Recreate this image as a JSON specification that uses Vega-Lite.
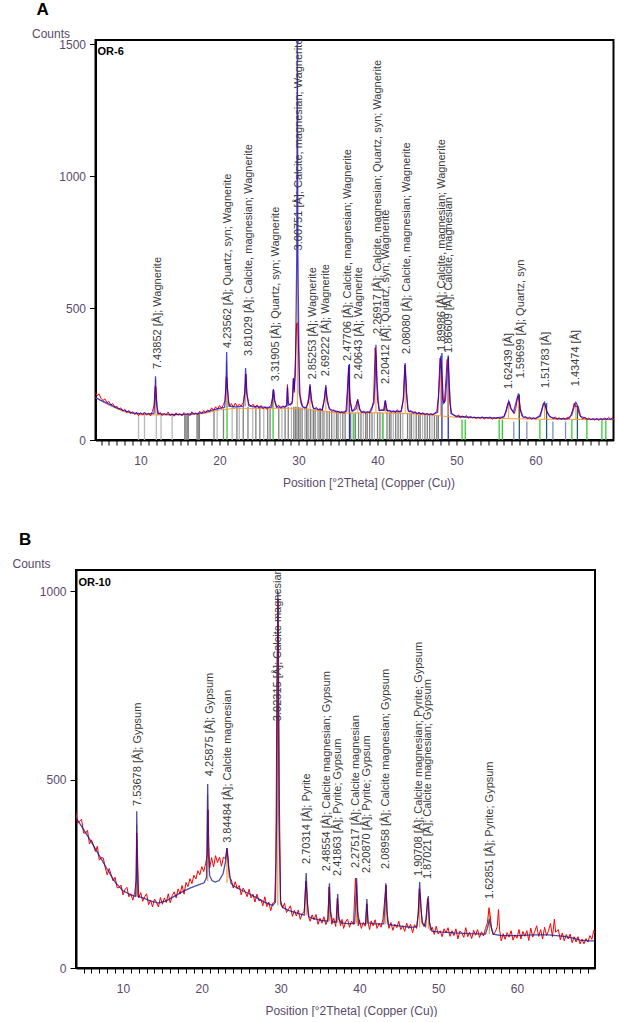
{
"$schema": "https://vega.github.io/schema/vega-lite/v6.json",
"padding": {"left": 11, "top": 0, "right": -15, "bottom": 0},
"spacing": 41,
"columns": 1,
"center": true,
"config": {
 "font": "Liberation Sans",
 "view": {"stroke": "black", "strokeWidth": 2},
 "axis": {"domainColor": "black", "domainWidth": 2, "tickColor": "black", "tickWidth": 1, "labelColor": "#5a4a6a", "titleColor": "#5a4a6a", "labelFontSize": 12, "titleFontSize": 12, "titleFontWeight": "normal", "grid": false, "labelFont": "Liberation Sans", "titleFont": "Liberation Sans"},
 "title": {"fontSize": 17, "fontWeight": "bold", "color": "black", "anchor": "start", "frame": "group", "offset": 8}
},
"datasets": {
"aObs": [
{"theta":4.3,"counts":180},{"theta":4.5,"counts":168},{"theta":4.75,"counts":175},{"theta":5.0,"counts":158},{"theta":5.25,"counts":150},{"theta":5.5,"counts":156},{"theta":5.75,"counts":142},{"theta":6.0,"counts":146},{"theta":6.25,"counts":133},{"theta":6.5,"counts":138},{"theta":6.75,"counts":124},{"theta":7.0,"counts":128},{"theta":7.25,"counts":116},{"theta":7.5,"counts":122},{"theta":7.75,"counts":110},{"theta":8.0,"counts":117},{"theta":8.25,"counts":104},{"theta":8.5,"counts":112},{"theta":8.75,"counts":100},{"theta":9.0,"counts":108},{"theta":9.25,"counts":96},{"theta":9.5,"counts":105},{"theta":9.75,"counts":92},{"theta":10.0,"counts":104},{"theta":10.25,"counts":94},{"theta":10.5,"counts":106},{"theta":10.75,"counts":95},{"theta":11.0,"counts":102},{"theta":11.25,"counts":92},{"theta":11.5,"counts":108},{"theta":11.7,"counts":130},{"theta":11.85,"counts":205},{"theta":11.95,"counts":200},{"theta":12.1,"counts":125},{"theta":12.3,"counts":98},{"theta":12.5,"counts":104},{"theta":12.75,"counts":93},{"theta":13.0,"counts":101},{"theta":13.25,"counts":95},{"theta":13.5,"counts":106},{"theta":13.75,"counts":92},{"theta":14.0,"counts":99},{"theta":14.25,"counts":90},{"theta":14.5,"counts":103},{"theta":14.75,"counts":94},{"theta":15.0,"counts":100},{"theta":15.25,"counts":91},{"theta":15.5,"counts":104},{"theta":15.75,"counts":96},{"theta":16.0,"counts":101},{"theta":16.25,"counts":92},{"theta":16.5,"counts":107},{"theta":16.75,"counts":97},{"theta":17.0,"counts":103},{"theta":17.25,"counts":95},{"theta":17.5,"counts":109},{"theta":17.75,"counts":100},{"theta":18.0,"counts":112},{"theta":18.25,"counts":104},{"theta":18.5,"counts":114},{"theta":18.75,"counts":108},{"theta":19.0,"counts":122},{"theta":19.25,"counts":112},{"theta":19.5,"counts":126},{"theta":19.75,"counts":116},{"theta":20.0,"counts":131},{"theta":20.25,"counts":120},{"theta":20.5,"counts":134},{"theta":20.7,"counts":150},{"theta":20.85,"counts":240},{"theta":20.95,"counts":235},{"theta":21.1,"counts":150},{"theta":21.3,"counts":128},{"theta":21.5,"counts":138},{"theta":21.75,"counts":124},{"theta":22.0,"counts":140},{"theta":22.25,"counts":127},{"theta":22.5,"counts":136},{"theta":22.75,"counts":129},{"theta":23.0,"counts":142},{"theta":23.2,"counts":180},{"theta":23.35,"counts":250},{"theta":23.5,"counts":170},{"theta":23.7,"counts":138},{"theta":24.0,"counts":128},{"theta":24.25,"counts":136},{"theta":24.5,"counts":122},{"theta":24.75,"counts":133},{"theta":25.0,"counts":120},{"theta":25.25,"counts":131},{"theta":25.5,"counts":118},{"theta":25.75,"counts":126},{"theta":26.0,"counts":116},{"theta":26.25,"counts":124},{"theta":26.5,"counts":130},{"theta":26.7,"counts":160},{"theta":26.85,"counts":190},{"theta":27.0,"counts":150},{"theta":27.25,"counts":124},{"theta":27.5,"counts":132},{"theta":27.75,"counts":120},{"theta":28.0,"counts":130},{"theta":28.25,"counts":122},{"theta":28.5,"counts":135},{"theta":28.6,"counts":210},{"theta":28.7,"counts":140},{"theta":29.0,"counts":132},{"theta":29.25,"counts":150},{"theta":29.35,"counts":235},{"theta":29.45,"counts":180},{"theta":29.6,"counts":300},{"theta":29.75,"counts":440},{"theta":29.9,"counts":445},{"theta":30.05,"counts":300},{"theta":30.2,"counts":170},{"theta":30.35,"counts":150},{"theta":30.5,"counts":128},{"theta":30.75,"counts":121},{"theta":31.0,"counts":126},{"theta":31.25,"counts":140},{"theta":31.45,"counts":205},{"theta":31.6,"counts":170},{"theta":31.8,"counts":125},{"theta":32.0,"counts":118},{"theta":32.25,"counts":124},{"theta":32.5,"counts":114},{"theta":32.75,"counts":120},{"theta":33.0,"counts":112},{"theta":33.25,"counts":150},{"theta":33.45,"counts":200},{"theta":33.6,"counts":165},{"theta":33.8,"counts":130},{"theta":34.0,"counts":114},{"theta":34.25,"counts":108},{"theta":34.5,"counts":115},{"theta":34.75,"counts":104},{"theta":35.0,"counts":110},{"theta":35.25,"counts":102},{"theta":35.5,"counts":108},{"theta":35.75,"counts":100},{"theta":36.0,"counts":110},{"theta":36.2,"counts":200},{"theta":36.35,"counts":275},{"theta":36.5,"counts":160},{"theta":36.75,"counts":110},{"theta":37.0,"counts":116},{"theta":37.25,"counts":130},{"theta":37.45,"counts":150},{"theta":37.6,"counts":140},{"theta":37.8,"counts":112},{"theta":38.0,"counts":104},{"theta":38.25,"counts":110},{"theta":38.5,"counts":100},{"theta":38.75,"counts":108},{"theta":39.0,"counts":102},{"theta":39.25,"counts":112},{"theta":39.5,"counts":150},{"theta":39.7,"counts":350},{"theta":39.85,"counts":300},{"theta":40.0,"counts":150},{"theta":40.25,"counts":110},{"theta":40.5,"counts":116},{"theta":40.75,"counts":112},{"theta":40.95,"counts":148},{"theta":41.1,"counts":130},{"theta":41.3,"counts":108},{"theta":41.5,"counts":114},{"theta":41.75,"counts":104},{"theta":42.0,"counts":112},{"theta":42.25,"counts":103},{"theta":42.5,"counts":115},{"theta":42.75,"counts":106},{"theta":43.0,"counts":112},{"theta":43.25,"counts":150},{"theta":43.45,"counts":285},{"theta":43.6,"counts":230},{"theta":43.8,"counts":120},{"theta":44.0,"counts":106},{"theta":44.25,"counts":112},{"theta":44.5,"counts":100},{"theta":44.75,"counts":108},{"theta":45.0,"counts":98},{"theta":45.25,"counts":106},{"theta":45.5,"counts":97},{"theta":45.75,"counts":104},{"theta":46.0,"counts":95},{"theta":46.25,"counts":102},{"theta":46.5,"counts":94},{"theta":46.75,"counts":100},{"theta":47.0,"counts":95},{"theta":47.25,"counts":102},{"theta":47.5,"counts":110},{"theta":47.7,"counts":160},{"theta":47.9,"counts":310},{"theta":48.05,"counts":300},{"theta":48.25,"counts":150},{"theta":48.45,"counts":140},{"theta":48.6,"counts":200},{"theta":48.8,"counts":305},{"theta":48.95,"counts":300},{"theta":49.15,"counts":140},{"theta":49.4,"counts":100},{"theta":49.75,"counts":92},{"theta":50.0,"counts":88},{"theta":50.25,"counts":95},{"theta":50.5,"counts":84},{"theta":50.75,"counts":91},{"theta":51.0,"counts":86},{"theta":51.25,"counts":93},{"theta":51.5,"counts":82},{"theta":51.75,"counts":90},{"theta":52.0,"counts":84},{"theta":52.25,"counts":88},{"theta":52.5,"counts":80},{"theta":52.75,"counts":87},{"theta":53.0,"counts":81},{"theta":53.25,"counts":89},{"theta":53.5,"counts":79},{"theta":53.75,"counts":86},{"theta":54.0,"counts":82},{"theta":54.25,"counts":88},{"theta":54.5,"counts":78},{"theta":54.75,"counts":85},{"theta":55.0,"counts":80},{"theta":55.25,"counts":87},{"theta":55.5,"counts":79},{"theta":55.75,"counts":86},{"theta":56.0,"counts":88},{"theta":56.25,"counts":110},{"theta":56.5,"counts":140},{"theta":56.7,"counts":145},{"theta":56.9,"counts":120},{"theta":57.1,"counts":110},{"theta":57.3,"counts":100},{"theta":57.5,"counts":120},{"theta":57.75,"counts":165},{"theta":57.9,"counts":160},{"theta":58.1,"counts":110},{"theta":58.3,"counts":90},{"theta":58.5,"counts":84},{"theta":58.75,"counts":90},{"theta":59.0,"counts":80},{"theta":59.25,"counts":87},{"theta":59.5,"counts":78},{"theta":59.75,"counts":85},{"theta":60.0,"counts":79},{"theta":60.25,"counts":88},{"theta":60.5,"counts":92},{"theta":60.75,"counts":110},{"theta":61.0,"counts":140},{"theta":61.2,"counts":135},{"theta":61.45,"counts":108},{"theta":61.75,"counts":92},{"theta":62.0,"counts":86},{"theta":62.25,"counts":80},{"theta":62.5,"counts":88},{"theta":62.75,"counts":78},{"theta":63.0,"counts":85},{"theta":63.25,"counts":77},{"theta":63.5,"counts":84},{"theta":63.75,"counts":78},{"theta":64.0,"counts":86},{"theta":64.25,"counts":80},{"theta":64.5,"counts":95},{"theta":64.75,"counts":120},{"theta":64.9,"counts":140},{"theta":65.1,"counts":125},{"theta":65.3,"counts":130},{"theta":65.5,"counts":100},{"theta":65.75,"counts":86},{"theta":66.0,"counts":80},{"theta":66.25,"counts":87},{"theta":66.5,"counts":77},{"theta":66.75,"counts":84},{"theta":67.0,"counts":76},{"theta":67.25,"counts":82},{"theta":67.5,"counts":75},{"theta":67.75,"counts":83},{"theta":68.0,"counts":74},{"theta":68.25,"counts":82},{"theta":68.5,"counts":76},{"theta":68.75,"counts":84},{"theta":69.0,"counts":78},{"theta":69.25,"counts":86},{"theta":69.5,"counts":79},{"theta":69.75,"counts":85},{"theta":69.87,"counts":80}
],
"aCalc": [
{"theta":4.3,"counts":162},{"theta":5,"counts":150},{"theta":6,"counts":136},{"theta":7,"counts":122},{"theta":8,"counts":110},{"theta":9,"counts":103},{"theta":10,"counts":100},{"theta":11,"counts":99},{"theta":11.7,"counts":101},{"theta":11.82,"counts":160},{"theta":11.9,"counts":242},{"theta":11.98,"counts":160},{"theta":12.15,"counts":100},{"theta":13,"counts":98},{"theta":14,"counts":97},{"theta":15,"counts":97},{"theta":16,"counts":98},{"theta":17,"counts":100},{"theta":18,"counts":104},{"theta":19,"counts":112},{"theta":20,"counts":120},{"theta":20.65,"counts":124},{"theta":20.82,"counts":200},{"theta":20.9,"counts":334},{"theta":20.98,"counts":200},{"theta":21.2,"counts":128},{"theta":22,"counts":126},{"theta":23.05,"counts":128},{"theta":23.2,"counts":190},{"theta":23.3,"counts":273},{"theta":23.42,"counts":180},{"theta":23.7,"counts":130},{"theta":24,"counts":128},{"theta":25,"counts":126},{"theta":26,"counts":124},{"theta":26.6,"counts":125},{"theta":26.75,"counts":170},{"theta":26.82,"counts":193},{"theta":26.95,"counts":150},{"theta":27.2,"counts":125},{"theta":28,"counts":126},{"theta":28.5,"counts":128},{"theta":28.6,"counts":200},{"theta":28.7,"counts":132},{"theta":29.2,"counts":140},{"theta":29.3,"counts":200},{"theta":29.35,"counts":232},{"theta":29.45,"counts":190},{"theta":29.6,"counts":250},{"theta":29.78,"counts":700},{"theta":29.85,"counts":1540},{"theta":29.92,"counts":700},{"theta":30.1,"counts":180},{"theta":30.3,"counts":142},{"theta":30.5,"counts":126},{"theta":31.0,"counts":122},{"theta":31.3,"counts":160},{"theta":31.45,"counts":212},{"theta":31.6,"counts":150},{"theta":31.9,"counts":120},{"theta":32.5,"counts":116},{"theta":33.0,"counts":114},{"theta":33.3,"counts":160},{"theta":33.45,"counts":208},{"theta":33.6,"counts":150},{"theta":33.9,"counts":118},{"theta":34.5,"counts":110},{"theta":35.5,"counts":105},{"theta":36.1,"counts":110},{"theta":36.25,"counts":200},{"theta":36.35,"counts":284},{"theta":36.5,"counts":150},{"theta":36.8,"counts":108},{"theta":37.3,"counts":118},{"theta":37.5,"counts":155},{"theta":37.7,"counts":118},{"theta":38,"counts":106},{"theta":39,"counts":106},{"theta":39.55,"counts":140},{"theta":39.72,"counts":250},{"theta":39.8,"counts":361},{"theta":39.92,"counts":220},{"theta":40.2,"counts":112},{"theta":40.85,"counts":112},{"theta":41.0,"counts":151},{"theta":41.15,"counts":112},{"theta":42,"counts":108},{"theta":43,"counts":108},{"theta":43.3,"counts":160},{"theta":43.5,"counts":292},{"theta":43.65,"counts":180},{"theta":43.9,"counts":110},{"theta":45,"counts":102},{"theta":46,"counts":99},{"theta":47,"counts":97},{"theta":47.6,"counts":105},{"theta":47.8,"counts":200},{"theta":48.0,"counts":319},{"theta":48.15,"counts":250},{"theta":48.35,"counts":140},{"theta":48.6,"counts":150},{"theta":48.8,"counts":250},{"theta":48.95,"counts":315},{"theta":49.1,"counts":200},{"theta":49.3,"counts":100},{"theta":50,"counts":90},{"theta":52,"counts":86},{"theta":55,"counts":84},{"theta":56,"counts":88},{"theta":56.3,"counts":110},{"theta":56.6,"counts":147},{"theta":56.85,"counts":120},{"theta":57.2,"counts":105},{"theta":57.6,"counts":150},{"theta":57.85,"counts":177},{"theta":58.05,"counts":120},{"theta":58.4,"counts":88},{"theta":59,"counts":84},{"theta":60,"counts":82},{"theta":60.6,"counts":90},{"theta":61.0,"counts":135},{"theta":61.15,"counts":143},{"theta":61.4,"counts":110},{"theta":61.8,"counts":88},{"theta":62.5,"counts":82},{"theta":64,"counts":80},{"theta":64.6,"counts":95},{"theta":65.0,"counts":138},{"theta":65.1,"counts":143},{"theta":65.4,"counts":125},{"theta":65.7,"counts":90},{"theta":66.5,"counts":80},{"theta":68,"counts":79},{"theta":69.87,"counts":79}
],
"aBg": [
{"theta":4.3,"counts":160},{"theta":6,"counts":132},{"theta":8,"counts":106},{"theta":10,"counts":96},{"theta":14,"counts":94},{"theta":18,"counts":100},{"theta":20,"counts":114},{"theta":22,"counts":120},{"theta":26,"counts":120},{"theta":28,"counts":120},{"theta":30,"counts":120},{"theta":32,"counts":112},{"theta":35,"counts":102},{"theta":40,"counts":103},{"theta":44,"counts":100},{"theta":47,"counts":94},{"theta":50,"counts":86},{"theta":55,"counts":82},{"theta":60,"counts":79},{"theta":65,"counts":78},{"theta":69.87,"counts":77}
],
"aSticks": [
{"theta":9.75,"counts":95,"kind":"light"},{"theta":10.5,"counts":95,"kind":"light"},{"theta":12.0,"counts":98,"kind":"light"},{"theta":12.6,"counts":98,"kind":"light"},{"theta":14.0,"counts":97,"kind":"light"},{"theta":15.6,"counts":97,"kind":"dark"},{"theta":15.75,"counts":97,"kind":"dark"},{"theta":15.9,"counts":97,"kind":"dark"},{"theta":16.05,"counts":97,"kind":"dark"},{"theta":17.15,"counts":100,"kind":"dark"},{"theta":17.3,"counts":100,"kind":"dark"},{"theta":17.45,"counts":100,"kind":"dark"},{"theta":19.3,"counts":110,"kind":"dark"},{"theta":19.7,"counts":112,"kind":"light"},{"theta":20.5,"counts":120,"kind":"dark"},{"theta":21.6,"counts":124,"kind":"light"},{"theta":22.2,"counts":124,"kind":"dark"},{"theta":22.5,"counts":124,"kind":"light"},{"theta":23.0,"counts":126,"kind":"dark"},{"theta":23.6,"counts":126,"kind":"dark"},{"theta":24.2,"counts":126,"kind":"light"},{"theta":24.6,"counts":126,"kind":"dark"},{"theta":25.1,"counts":124,"kind":"dark"},{"theta":25.6,"counts":124,"kind":"light"},{"theta":26.1,"counts":122,"kind":"dark"},{"theta":26.4,"counts":122,"kind":"dark"},{"theta":27.5,"counts":122,"kind":"dark"},{"theta":27.9,"counts":124,"kind":"light"},{"theta":28.3,"counts":124,"kind":"dark"},{"theta":28.7,"counts":125,"kind":"dark"},{"theta":29.1,"counts":126,"kind":"light"},{"theta":29.4,"counts":126,"kind":"dark"},{"theta":29.6,"counts":126,"kind":"dark"},{"theta":29.8,"counts":126,"kind":"dark"},{"theta":30.0,"counts":125,"kind":"dark"},{"theta":30.2,"counts":124,"kind":"dark"},{"theta":30.45,"counts":122,"kind":"dark"},{"theta":30.8,"counts":120,"kind":"light"},{"theta":31.0,"counts":120,"kind":"dark"},{"theta":31.2,"counts":119,"kind":"dark"},{"theta":31.5,"counts":118,"kind":"dark"},{"theta":31.7,"counts":117,"kind":"light"},{"theta":31.9,"counts":116,"kind":"dark"},{"theta":32.1,"counts":115,"kind":"dark"},{"theta":32.4,"counts":114,"kind":"light"},{"theta":32.6,"counts":114,"kind":"dark"},{"theta":32.8,"counts":113,"kind":"dark"},{"theta":33.1,"counts":112,"kind":"dark"},{"theta":33.3,"counts":112,"kind":"light"},{"theta":33.6,"counts":111,"kind":"dark"},{"theta":33.9,"counts":110,"kind":"dark"},{"theta":34.2,"counts":108,"kind":"dark"},{"theta":34.5,"counts":108,"kind":"light"},{"theta":34.8,"counts":106,"kind":"dark"},{"theta":35.0,"counts":106,"kind":"dark"},{"theta":35.3,"counts":105,"kind":"light"},{"theta":35.6,"counts":104,"kind":"dark"},{"theta":35.9,"counts":104,"kind":"dark"},{"theta":36.6,"counts":104,"kind":"dark"},{"theta":36.9,"counts":104,"kind":"light"},{"theta":37.2,"counts":104,"kind":"dark"},{"theta":37.6,"counts":104,"kind":"dark"},{"theta":37.9,"counts":104,"kind":"dark"},{"theta":38.2,"counts":104,"kind":"light"},{"theta":38.5,"counts":104,"kind":"dark"},{"theta":38.7,"counts":104,"kind":"dark"},{"theta":39.0,"counts":104,"kind":"dark"},{"theta":39.3,"counts":104,"kind":"dark"},{"theta":39.6,"counts":105,"kind":"light"},{"theta":40.0,"counts":105,"kind":"dark"},{"theta":40.3,"counts":105,"kind":"dark"},{"theta":40.6,"counts":105,"kind":"light"},{"theta":41.2,"counts":105,"kind":"dark"},{"theta":41.5,"counts":105,"kind":"dark"},{"theta":41.7,"counts":105,"kind":"dark"},{"theta":42.0,"counts":105,"kind":"light"},{"theta":42.3,"counts":105,"kind":"dark"},{"theta":42.6,"counts":105,"kind":"dark"},{"theta":42.9,"counts":105,"kind":"dark"},{"theta":43.2,"counts":104,"kind":"light"},{"theta":43.8,"counts":103,"kind":"dark"},{"theta":44.1,"counts":103,"kind":"dark"},{"theta":44.3,"counts":102,"kind":"dark"},{"theta":44.6,"counts":102,"kind":"light"},{"theta":44.9,"counts":101,"kind":"dark"},{"theta":45.2,"counts":100,"kind":"dark"},{"theta":45.4,"counts":100,"kind":"dark"},{"theta":45.7,"counts":99,"kind":"light"},{"theta":46.0,"counts":98,"kind":"dark"},{"theta":46.3,"counts":98,"kind":"dark"},{"theta":46.6,"counts":97,"kind":"dark"},{"theta":46.9,"counts":96,"kind":"light"},{"theta":47.2,"counts":96,"kind":"dark"},{"theta":47.5,"counts":95,"kind":"dark"},{"theta":47.7,"counts":95,"kind":"dark"},
{"theta":20.95,"counts":150,"kind":"green"},{"theta":26.78,"counts":190,"kind":"green"},{"theta":37.0,"counts":100,"kind":"green"},{"theta":40.7,"counts":102,"kind":"green"},{"theta":50.7,"counts":78,"kind":"green"},{"theta":51.1,"counts":78,"kind":"green"},{"theta":55.4,"counts":78,"kind":"green"},{"theta":55.8,"counts":78,"kind":"green"},{"theta":60.55,"counts":76,"kind":"green"},{"theta":64.6,"counts":76,"kind":"green"},{"theta":66.5,"counts":76,"kind":"green"},{"theta":68.4,"counts":75,"kind":"green"},{"theta":68.9,"counts":75,"kind":"green"},
{"theta":36.45,"counts":288,"kind":"blue"},{"theta":48.15,"counts":330,"kind":"blue"},{"theta":48.95,"counts":320,"kind":"blue"},
{"theta":57.25,"counts":70,"kind":"slate"},{"theta":57.95,"counts":173,"kind":"teal"},{"theta":58.9,"counts":70,"kind":"slate"},{"theta":61.4,"counts":140,"kind":"teal"},{"theta":62.2,"counts":70,"kind":"slate"},{"theta":63.8,"counts":70,"kind":"slate"},{"theta":65.3,"counts":130,"kind":"teal"}
],
"aMarks": [
{"theta":11.9,"bg":100,"counts":230},{"theta":20.9,"bg":122,"counts":300},{"theta":23.3,"bg":127,"counts":250},{"theta":26.8,"bg":122,"counts":180},{"theta":29.85,"bg":125,"counts":1400},{"theta":31.45,"bg":118,"counts":200},{"theta":33.45,"bg":112,"counts":195},{"theta":36.35,"bg":104,"counts":270},{"theta":37.5,"bg":104,"counts":150},{"theta":39.8,"bg":105,"counts":340},{"theta":41.0,"bg":105,"counts":145},{"theta":43.5,"bg":104,"counts":280},{"theta":48.0,"bg":95,"counts":300},{"theta":48.95,"bg":93,"counts":300},{"theta":56.6,"bg":83,"counts":140},{"theta":57.85,"bg":82,"counts":170},{"theta":61.15,"bg":80,"counts":138},{"theta":65.1,"bg":78,"counts":138}
],
"aLabels": [
{"theta":12.15,"counts":269,"label":"7.43852 [Å]; Wagnerite"},
{"theta":21.1,"counts":349,"label":"4.23562 [Å]; Quartz, syn; Wagnerite"},
{"theta":23.7,"counts":319,"label":"3.81029 [Å]; Calcite, magnesian; Wagnerite"},
{"theta":27.1,"counts":223,"label":"3.31905 [Å]; Quartz, syn; Wagnerite"},
{"theta":30.0,"counts":719,"label":"3.00751 [Å]; Calcite, magnesian; Wagnerite"},
{"theta":31.8,"counts":230,"label":"2.85253 [Å]; Wagnerite"},
{"theta":33.5,"counts":242,"label":"2.69222 [Å]; Wagnerite"},
{"theta":36.3,"counts":300,"label":"2.47706 [Å]; Calcite, magnesian; Wagnerite"},
{"theta":37.6,"counts":230,"label":"2.40643 [Å]; Wagnerite"},
{"theta":40.0,"counts":402,"label":"2.26917 [Å]; Calcite, magnesian; Quartz, syn; Wagnerite"},
{"theta":41.1,"counts":212,"label":"2.20412 [Å]; Quartz, syn; Wagnerite"},
{"theta":43.7,"counts":326,"label":"2.08080 [Å]; Calcite, magnesian; Wagnerite"},
{"theta":48.2,"counts":338,"label":"1.89986 [Å]; Calcite, magnesian; Wagnerite"},
{"theta":49.0,"counts":330,"label":"1.86609 [Å]; Calcite, magnesian"},
{"theta":56.6,"counts":193,"label":"1.62439 [Å]"},
{"theta":58.1,"counts":234,"label":"1.59699 [Å]; Quartz, syn"},
{"theta":61.3,"counts":197,"label":"1.51783 [Å]"},
{"theta":65.1,"counts":204,"label":"1.43474 [Å]"}
],
"aTag": [{"theta":4.55,"counts":1462,"label":"OR-6"}],
"bObs": [
{"theta":4.0,"counts":415},{"theta":4.25,"counts":384},{"theta":4.5,"counts":390},{"theta":4.75,"counts":394},{"theta":5.0,"counts":358},{"theta":5.25,"counts":358},{"theta":5.5,"counts":365},{"theta":5.75,"counts":329},{"theta":6.0,"counts":340},{"theta":6.25,"counts":326},{"theta":6.5,"counts":309},{"theta":6.75,"counts":323},{"theta":7.0,"counts":286},{"theta":7.25,"counts":293},{"theta":7.5,"counts":292},{"theta":7.75,"counts":266},{"theta":8.0,"counts":247},{"theta":8.25,"counts":264},{"theta":8.5,"counts":247},{"theta":8.75,"counts":231},{"theta":9.0,"counts":241},{"theta":9.25,"counts":213},{"theta":9.5,"counts":213},{"theta":9.75,"counts":220},{"theta":10.0,"counts":194},{"theta":10.25,"counts":208},{"theta":10.5,"counts":214},{"theta":10.75,"counts":189},{"theta":11.0,"counts":197},{"theta":11.25,"counts":180},{"theta":11.5,"counts":201},{"theta":11.65,"counts":230},{"theta":11.75,"counts":358},{"theta":11.85,"counts":300},{"theta":12.0,"counts":186},{"theta":12.25,"counts":200},{"theta":12.5,"counts":177},{"theta":12.75,"counts":189},{"theta":13.0,"counts":197},{"theta":13.25,"counts":168},{"theta":13.5,"counts":180},{"theta":13.75,"counts":162},{"theta":14.0,"counts":183},{"theta":14.25,"counts":174},{"theta":14.5,"counts":162},{"theta":14.75,"counts":187},{"theta":15.0,"counts":169},{"theta":15.25,"counts":186},{"theta":15.5,"counts":174},{"theta":15.75,"counts":197},{"theta":16.0,"counts":173},{"theta":16.25,"counts":192},{"theta":16.5,"counts":202},{"theta":16.75,"counts":186},{"theta":17.0,"counts":210},{"theta":17.25,"counts":196},{"theta":17.5,"counts":219},{"theta":17.75,"counts":196},{"theta":18.0,"counts":227},{"theta":18.25,"counts":216},{"theta":18.5,"counts":237},{"theta":18.75,"counts":224},{"theta":19.0,"counts":246},{"theta":19.25,"counts":236},{"theta":19.5,"counts":258},{"theta":19.75,"counts":247},{"theta":20.0,"counts":269},{"theta":20.25,"counts":256},{"theta":20.5,"counts":278},{"theta":20.7,"counts":300},{"theta":20.8,"counts":420},{"theta":20.9,"counts":330},{"theta":21.0,"counts":265},{"theta":21.25,"counts":293},{"theta":21.5,"counts":268},{"theta":21.75,"counts":298},{"theta":22.0,"counts":280},{"theta":22.25,"counts":294},{"theta":22.5,"counts":270},{"theta":22.75,"counts":294},{"theta":23.0,"counts":290},{"theta":23.2,"counts":318},{"theta":23.35,"counts":290},{"theta":23.5,"counts":240},{"theta":23.75,"counts":234},{"theta":24.0,"counts":212},{"theta":24.25,"counts":229},{"theta":24.5,"counts":210},{"theta":24.75,"counts":219},{"theta":25.0,"counts":194},{"theta":25.25,"counts":212},{"theta":25.5,"counts":203},{"theta":25.75,"counts":189},{"theta":26.0,"counts":209},{"theta":26.25,"counts":186},{"theta":26.5,"counts":196},{"theta":26.75,"counts":175},{"theta":27.0,"counts":196},{"theta":27.25,"counts":178},{"theta":27.5,"counts":182},{"theta":27.75,"counts":165},{"theta":28.0,"counts":189},{"theta":28.25,"counts":163},{"theta":28.5,"counts":175},{"theta":28.75,"counts":152},{"theta":29.0,"counts":172},{"theta":29.25,"counts":175},{"theta":29.4,"counts":280},{"theta":29.55,"counts":800},{"theta":29.7,"counts":980},{"theta":29.85,"counts":450},{"theta":30.0,"counts":180},{"theta":30.25,"counts":159},{"theta":30.5,"counts":172},{"theta":30.75,"counts":147},{"theta":31.0,"counts":156},{"theta":31.25,"counts":165},{"theta":31.5,"counts":137},{"theta":31.75,"counts":153},{"theta":32.0,"counts":138},{"theta":32.25,"counts":154},{"theta":32.5,"counts":129},{"theta":32.75,"counts":145},{"theta":33.0,"counts":150},{"theta":33.2,"counts":230},{"theta":33.35,"counts":200},{"theta":33.5,"counts":140},{"theta":33.75,"counts":124},{"theta":34.0,"counts":141},{"theta":34.25,"counts":128},{"theta":34.5,"counts":142},{"theta":34.75,"counts":116},{"theta":35.0,"counts":132},{"theta":35.25,"counts":119},{"theta":35.5,"counts":136},{"theta":35.75,"counts":115},{"theta":36.0,"counts":130},{"theta":36.15,"counts":215},{"theta":36.3,"counts":150},{"theta":36.5,"counts":116},{"theta":36.75,"counts":132},{"theta":37.0,"counts":110},{"theta":37.2,"counts":185},{"theta":37.35,"counts":140},{"theta":37.6,"counts":112},{"theta":37.8,"counts":129},{"theta":38.0,"counts":105},{"theta":38.25,"counts":122},{"theta":38.5,"counts":130},{"theta":38.75,"counts":108},{"theta":39.0,"counts":124},{"theta":39.25,"counts":116},{"theta":39.5,"counts":238},{"theta":39.65,"counts":200},{"theta":39.85,"counts":112},{"theta":40.0,"counts":128},{"theta":40.25,"counts":105},{"theta":40.5,"counts":121},{"theta":40.75,"counts":111},{"theta":40.95,"counts":170},{"theta":41.1,"counts":120},{"theta":41.3,"counts":102},{"theta":41.5,"counts":125},{"theta":41.75,"counts":112},{"theta":42.0,"counts":128},{"theta":42.25,"counts":105},{"theta":42.5,"counts":119},{"theta":42.75,"counts":108},{"theta":43.0,"counts":131},{"theta":43.25,"counts":190},{"theta":43.4,"counts":220},{"theta":43.55,"counts":130},{"theta":43.75,"counts":105},{"theta":44.0,"counts":121},{"theta":44.25,"counts":100},{"theta":44.5,"counts":116},{"theta":44.75,"counts":107},{"theta":45.0,"counts":124},{"theta":45.25,"counts":102},{"theta":45.5,"counts":112},{"theta":45.75,"counts":97},{"theta":46.0,"counts":119},{"theta":46.25,"counts":105},{"theta":46.5,"counts":116},{"theta":46.75,"counts":93},{"theta":47.0,"counts":115},{"theta":47.25,"counts":105},{"theta":47.45,"counts":140},{"theta":47.6,"counts":210},{"theta":47.75,"counts":190},{"theta":47.95,"counts":120},{"theta":48.2,"counts":110},{"theta":48.45,"counts":130},{"theta":48.65,"counts":185},{"theta":48.8,"counts":150},{"theta":49.0,"counts":100},{"theta":49.25,"counts":108},{"theta":49.5,"counts":89},{"theta":49.75,"counts":111},{"theta":50.0,"counts":90},{"theta":50.25,"counts":99},{"theta":50.5,"counts":83},{"theta":50.75,"counts":104},{"theta":51.0,"counts":93},{"theta":51.25,"counts":107},{"theta":51.5,"counts":84},{"theta":51.75,"counts":99},{"theta":52.0,"counts":86},{"theta":52.25,"counts":104},{"theta":52.5,"counts":77},{"theta":52.75,"counts":98},{"theta":53.0,"counts":93},{"theta":53.25,"counts":81},{"theta":53.5,"counts":107},{"theta":53.75,"counts":83},{"theta":54.0,"counts":95},{"theta":54.25,"counts":78},{"theta":54.5,"counts":100},{"theta":54.75,"counts":87},{"theta":55.0,"counts":102},{"theta":55.25,"counts":81},{"theta":55.5,"counts":96},{"theta":55.75,"counts":85},{"theta":56.0,"counts":105},{"theta":56.25,"counts":120},{"theta":56.45,"counts":160},{"theta":56.6,"counts":140},{"theta":56.8,"counts":100},{"theta":57.0,"counts":88},{"theta":57.25,"counts":96},{"theta":57.5,"counts":110},{"theta":57.65,"counts":155},{"theta":57.8,"counts":100},{"theta":58.0,"counts":72},{"theta":58.25,"counts":91},{"theta":58.5,"counts":76},{"theta":58.75,"counts":94},{"theta":59.0,"counts":82},{"theta":59.25,"counts":99},{"theta":59.5,"counts":74},{"theta":59.75,"counts":88},{"theta":60.0,"counts":79},{"theta":60.25,"counts":102},{"theta":60.5,"counts":77},{"theta":60.75,"counts":97},{"theta":61.0,"counts":84},{"theta":61.25,"counts":99},{"theta":61.5,"counts":73},{"theta":61.75,"counts":106},{"theta":62.0,"counts":82},{"theta":62.25,"counts":97},{"theta":62.5,"counts":112},{"theta":62.75,"counts":84},{"theta":63.0,"counts":102},{"theta":63.25,"counts":77},{"theta":63.5,"counts":108},{"theta":63.75,"counts":86},{"theta":64.0,"counts":99},{"theta":64.25,"counts":118},{"theta":64.5,"counts":83},{"theta":64.75,"counts":130},{"theta":64.9,"counts":95},{"theta":65.25,"counts":102},{"theta":65.5,"counts":75},{"theta":65.75,"counts":93},{"theta":66.0,"counts":72},{"theta":66.25,"counts":89},{"theta":66.5,"counts":77},{"theta":66.75,"counts":90},{"theta":67.0,"counts":67},{"theta":67.25,"counts":83},{"theta":67.5,"counts":69},{"theta":67.75,"counts":83},{"theta":68.0,"counts":64},{"theta":68.25,"counts":77},{"theta":68.5,"counts":64},{"theta":68.75,"counts":78},{"theta":69.0,"counts":69},{"theta":69.25,"counts":86},{"theta":69.5,"counts":76},{"theta":69.75,"counts":100},{"theta":69.9,"counts":92}
],
"bCalc": [
{"theta":4.0,"counts":400},{"theta":5,"counts":368},{"theta":6,"counts":334},{"theta":7,"counts":298},{"theta":8,"counts":262},{"theta":9,"counts":228},{"theta":10,"counts":205},{"theta":11,"counts":194},{"theta":11.6,"counts":190},{"theta":11.7,"counts":250},{"theta":11.75,"counts":416},{"theta":11.8,"counts":300},{"theta":11.9,"counts":190},{"theta":12.5,"counts":186},{"theta":13.5,"counts":178},{"theta":14.5,"counts":172},{"theta":15.5,"counts":178},{"theta":16.5,"counts":190},{"theta":17.5,"counts":202},{"theta":18.5,"counts":212},{"theta":19.5,"counts":220},{"theta":20.3,"counts":226},{"theta":20.6,"counts":240},{"theta":20.75,"counts":488},{"theta":20.85,"counts":300},{"theta":21.0,"counts":245},{"theta":21.3,"counts":232},{"theta":21.7,"counts":228},{"theta":22.2,"counts":232},{"theta":22.7,"counts":250},{"theta":23.0,"counts":280},{"theta":23.2,"counts":318},{"theta":23.4,"counts":270},{"theta":23.7,"counts":225},{"theta":24.0,"counts":218},{"theta":25,"counts":207},{"theta":26,"counts":197},{"theta":27,"counts":186},{"theta":28,"counts":174},{"theta":29.0,"counts":166},{"theta":29.35,"counts":175},{"theta":29.5,"counts":400},{"theta":29.65,"counts":1000},{"theta":29.8,"counts":400},{"theta":30.0,"counts":170},{"theta":30.3,"counts":160},{"theta":31,"counts":153},{"theta":32,"counts":146},{"theta":33.0,"counts":140},{"theta":33.15,"counts":200},{"theta":33.25,"counts":252},{"theta":33.4,"counts":170},{"theta":33.6,"counts":136},{"theta":34,"counts":132},{"theta":35,"counts":127},{"theta":36.0,"counts":124},{"theta":36.1,"counts":170},{"theta":36.2,"counts":225},{"theta":36.35,"counts":150},{"theta":36.6,"counts":122},{"theta":37.1,"counts":122},{"theta":37.25,"counts":196},{"theta":37.4,"counts":130},{"theta":37.7,"counts":120},{"theta":38.5,"counts":118},{"theta":39.4,"counts":118},{"theta":39.55,"counts":180},{"theta":39.65,"counts":239},{"theta":39.8,"counts":150},{"theta":40.0,"counts":118},{"theta":40.8,"counts":117},{"theta":40.95,"counts":183},{"theta":41.1,"counts":120},{"theta":42,"counts":117},{"theta":43.1,"counts":117},{"theta":43.25,"counts":170},{"theta":43.35,"counts":225},{"theta":43.5,"counts":150},{"theta":43.7,"counts":115},{"theta":45,"counts":112},{"theta":46.5,"counts":108},{"theta":47.3,"counts":110},{"theta":47.5,"counts":150},{"theta":47.65,"counts":228},{"theta":47.8,"counts":160},{"theta":48.0,"counts":120},{"theta":48.4,"counts":110},{"theta":48.6,"counts":160},{"theta":48.75,"counts":191},{"theta":48.9,"counts":120},{"theta":49.2,"counts":98},{"theta":50,"counts":96},{"theta":52,"counts":93},{"theta":54,"counts":91},{"theta":56.0,"counts":90},{"theta":56.3,"counts":110},{"theta":56.5,"counts":130},{"theta":56.7,"counts":110},{"theta":57.0,"counts":90},{"theta":58,"counts":86},{"theta":60,"counts":86},{"theta":62,"counts":88},{"theta":64,"counts":88},{"theta":66,"counts":84},{"theta":67,"counts":80},{"theta":68,"counts":74},{"theta":69,"counts":72},{"theta":69.9,"counts":72}
],
"bMarks": [
{"theta":11.75,"bg":190,"counts":380},{"theta":20.75,"bg":230,"counts":460},{"theta":23.2,"bg":226,"counts":300},{"theta":29.65,"bg":166,"counts":700},{"theta":33.25,"bg":140,"counts":230},{"theta":36.2,"bg":124,"counts":200},{"theta":37.25,"bg":121,"counts":180},{"theta":39.65,"bg":118,"counts":220},{"theta":40.95,"bg":117,"counts":170},{"theta":43.35,"bg":116,"counts":210},{"theta":47.65,"bg":108,"counts":210},{"theta":48.75,"bg":104,"counts":175},{"theta":56.5,"bg":90,"counts":150}
],
"bLabels": [
{"theta":11.9,"counts":430,"label":"7.53678 [Å]; Gypsum"},
{"theta":21.0,"counts":509,"label":"4.25875 [Å]; Gypsum"},
{"theta":23.3,"counts":332,"label":"3.84484 [Å]; Calcite magnesian"},
{"theta":29.7,"counts":655,"label":"3.02315 [Å]; Calcite magnesian"},
{"theta":33.3,"counts":276,"label":"2.70314 [Å]; Pyrite"},
{"theta":35.9,"counts":257,"label":"2.48554 [Å]; Calcite magnesian; Gypsum"},
{"theta":37.3,"counts":244,"label":"2.41863 [Å]; Pyrite; Gypsum"},
{"theta":39.6,"counts":265,"label":"2.27517 [Å]; Calcite magnesian"},
{"theta":41.0,"counts":252,"label":"2.20870 [Å]; Pyrite; Gypsum"},
{"theta":43.4,"counts":263,"label":"2.08958 [Å]; Calcite magnesian; Gypsum"},
{"theta":47.6,"counts":244,"label":"1.90708 [Å]; Calcite magnesian; Pyrite; Gypsum"},
{"theta":48.7,"counts":236,"label":"1.87021 [Å]; Calcite magnesian; Gypsum"},
{"theta":56.6,"counts":183,"label":"1.62851 [Å]; Pyrite; Gypsum"}
],
"bTag": [{"theta":4.35,"counts":1013,"label":"OR-10"}]
},
"concat": [
{
 "width": 518, "height": 400,
 "title": {"text": "A", "dx": -59},
 "encoding": {
  "x": {"field": "theta", "type": "quantitative", "scale": {"domain": [4.3, 69.87], "nice": false, "zero": false},
   "axis": {"values": [5,6,7,8,9,10,11,12,13,14,15,16,17,18,19,20,21,22,23,24,25,26,27,28,29,30,31,32,33,34,35,36,37,38,39,40,41,42,43,44,45,46,47,48,49,50,51,52,53,54,55,56,57,58,59,60,61,62,63,64,65,66,67,68,69],
    "labelExpr": "datum.value % 10 === 0 ? datum.label : ''", "tickSize": 5, "labelPadding": 10,
    "title": "Position [°2Theta] (Copper (Cu))", "titleX": 273, "titleY": 46, "titleAlign": "center", "titleAnchor": null, "titleBaseline": "alphabetic"}},
  "y": {"field": "counts", "type": "quantitative", "scale": {"domain": [0, 1517], "nice": false},
   "axis": {"values": [0, 500, 1000, 1500], "format": "d", "tickSize": 6, "labelPadding": 4,
    "title": "Counts", "titleAngle": 0, "titleX": -64, "titleY": -3, "titleAlign": "left", "titleBaseline": "alphabetic"}}
 },
 "layer": [
  {"data": {"name": "aSticks"}, "mark": {"type": "rule", "strokeWidth": 1.3},
   "encoding": {"y2": {"datum": 0},
    "color": {"field": "kind", "type": "nominal", "legend": null,
     "scale": {"domain": ["dark","light","green","blue","slate","teal"], "range": ["#808080","#b8b8b8","#33cc33","#2030c8","#8090b8","#206070"]}}}},
  {"data": {"name": "aMarks"}, "mark": {"type": "rule", "color": "#f0a030", "strokeWidth": 1, "clip": true},
   "encoding": {"y2": {"field": "bg"}}},
  {"data": {"name": "aBg"}, "mark": {"type": "line", "color": "#f0a030", "strokeWidth": 1}, "encoding": {}},
  {"data": {"name": "aObs"}, "mark": {"type": "line", "color": "#ff0000", "strokeWidth": 1, "clip": true}, "encoding": {}},
  {"data": {"name": "aCalc"}, "mark": {"type": "line", "color": "#0000dd", "strokeWidth": 1.3, "opacity": 0.72, "clip": true}, "encoding": {}},
  {"data": {"name": "aLabels"}, "mark": {"type": "text", "angle": 270, "align": "left", "baseline": "middle", "fontSize": 11, "color": "#3a3a3a", "clip": true},
   "encoding": {"text": {"field": "label"}}},
  {"data": {"name": "aTag"}, "mark": {"type": "text", "align": "left", "baseline": "alphabetic", "fontSize": 11, "fontWeight": "bold", "color": "black"},
   "encoding": {"text": {"field": "label"}}}
 ]
},
{
 "width": 519, "height": 398,
 "title": {"text": "B", "dx": -57},
 "resolve": {"axis": {"y": "independent"}},
 "encoding": {
  "x": {"field": "theta", "type": "quantitative", "scale": {"domain": [4.04, 69.9], "nice": false, "zero": false},
   "axis": {"values": [5,6,7,8,9,10,11,12,13,14,15,16,17,18,19,20,21,22,23,24,25,26,27,28,29,30,31,32,33,34,35,36,37,38,39,40,41,42,43,44,45,46,47,48,49,50,51,52,53,54,55,56,57,58,59,60,61,62,63,64,65,66,67,68,69],
    "labelExpr": "datum.value % 10 === 0 ? datum.label : ''", "tickSize": 5, "labelPadding": 10,
    "title": "Position [°2Theta] (Copper (Cu))", "titleX": 275, "titleY": 46, "titleAlign": "center", "titleAnchor": null, "titleBaseline": "alphabetic"}},
  "y": {"field": "counts", "type": "quantitative", "scale": {"domain": [0, 1056], "nice": false}, "axis": null}
 },
 "layer": [
  {"data": {"name": "bMarks"}, "mark": {"type": "rule", "color": "#f0a030", "strokeWidth": 1.2, "clip": true},
   "encoding": {
    "y": {"field": "counts", "type": "quantitative", "scale": {"domain": [0, 1056], "nice": false},
     "axis": {"values": [0, 500, 1000], "format": "d", "tickSize": 6, "labelPadding": 4, "orient": "left",
      "title": "Counts", "titleAngle": 0, "titleX": -64, "titleY": -3, "titleAlign": "left", "titleBaseline": "alphabetic"}},
    "y2": {"field": "bg"}}},
  {"data": {"name": "bObs"}, "mark": {"type": "line", "color": "#ff0000", "strokeWidth": 1, "clip": true}, "encoding": {}},
  {"data": {"name": "bCalc"}, "mark": {"type": "line", "color": "#12128c", "strokeWidth": 1.3, "opacity": 0.75, "clip": true}, "encoding": {}},
  {"data": {"name": "bLabels"}, "mark": {"type": "text", "angle": 270, "align": "left", "baseline": "middle", "fontSize": 11, "color": "#3a3a3a", "clip": true},
   "encoding": {"text": {"field": "label"}}},
  {"data": {"name": "bTag"}, "mark": {"type": "text", "align": "left", "baseline": "alphabetic", "fontSize": 11, "fontWeight": "bold", "color": "black"},
   "encoding": {
    "y": {"field": "counts", "type": "quantitative", "scale": {"domain": [0, 1056], "nice": false},
     "axis": {"orient": "right", "labels": false, "ticks": false, "domain": false, "title": null, "minExtent": 40, "maxExtent": 40}},
    "text": {"field": "label"}}}
 ]
}
]
}
